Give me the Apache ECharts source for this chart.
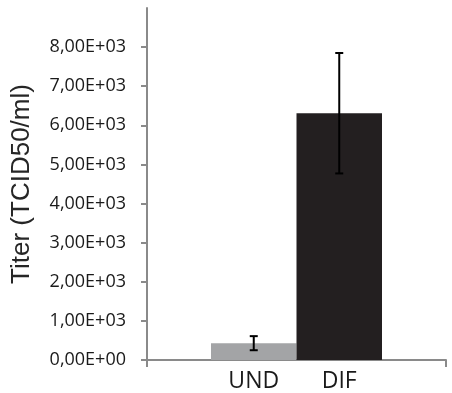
<!DOCTYPE html>
<html>
<head>
<meta charset="utf-8">
<script src="https://cdn.jsdelivr.net/npm/echarts@6/dist/echarts.min.js"></script>
<style>
  html, body { margin: 0; padding: 0; background: #fff; }
  #chart { width: 452px; height: 393px; }
</style>
</head>
<body>
<div id="chart"></div>
<script>
// data
const categories = ['UND', 'DIF']
const titers = [430, 6310]
const errors = [180, 1540]
const barColors = ['#a3a4a6', '#231f20']
const tickLabels = ['0,00E+00', '1,00E+03', '2,00E+03', '3,00E+03', '4,00E+03',
  '5,00E+03', '6,00E+03', '7,00E+03', '8,00E+03', '9,00E+03']

const axisGray = '#8a8a8a'

const chart = echarts.init(document.getElementById('chart'))

const option = {
  animation: false,
  grid: [
    // full frame: y axis + x axis line
    { left: 147, top: 8, width: 299, bottom: 33, outerBoundsMode: 'none', containLabel: false },
    // bars sit in a narrower band of the same frame
    { left: 211, top: 8, width: 171, bottom: 33, outerBoundsMode: 'none', containLabel: false }
  ],
  xAxis: [
    {
      gridIndex: 0,
      type: 'value',
      min: 0,
      max: 1,
      interval: 1,
      axisLine: { show: true, lineStyle: { color: axisGray, width: 2 } },
      axisTick: { show: true, length: 7, lineStyle: { color: axisGray, width: 2 } },
      axisLabel: { show: false },
      splitLine: { show: false }
    },
    {
      gridIndex: 1,
      type: 'category',
      data: categories,
      axisLine: { show: false },
      axisTick: { show: false },
      axisLabel: {
        margin: 10,
        color: '#1a1a1a',
        fontFamily: 'Open Sans',
        fontSize: 23
      }
    }
  ],
  yAxis: [
    {
      gridIndex: 0,
      type: 'value',
      min: 0,
      max: 9000,
      interval: 1000,
      name: 'Titer (TCID50/ml)',
      nameLocation: 'middle',
      nameRotate: 90,
      nameGap: 112,
      nameTextStyle: {
        color: '#262626',
        fontFamily: 'Liberation Sans',
        fontSize: 26
      },
      axisLine: { show: true, lineStyle: { color: axisGray, width: 2 } },
      axisTick: { show: true, inside: false, length: 6, lineStyle: { color: axisGray, width: 2 } },
      axisLabel: {
        showMaxLabel: false,
        margin: 21,
        color: '#1a1a1a',
        fontFamily: 'Open Sans',
        fontSize: 18,
        formatter: (v) => tickLabels[Math.round(v / 1000)]
      },
      splitLine: { show: false }
    },
    {
      gridIndex: 1,
      type: 'value',
      min: 0,
      max: 9000,
      show: false
    }
  ],
  series: [
    {
      type: 'bar',
      xAxisIndex: 1,
      yAxisIndex: 1,
      barCategoryGap: 0,
      data: titers.map((v, i) => ({ value: v, itemStyle: { color: barColors[i] } })),
      z: 1
    },
    {
      // error bars
      type: 'custom',
      xAxisIndex: 1,
      yAxisIndex: 1,
      data: titers.map((v, i) => [i, v - errors[i], v + errors[i]]),
      renderItem: (params, api) => {
        const lo = api.coord([api.value(0), api.value(1)])
        const hi = api.coord([api.value(0), api.value(2)])
        const half = 4
        const style = { stroke: '#000', lineWidth: 2 }
        return {
          type: 'group',
          children: [
            { type: 'line', shape: { x1: hi[0], y1: hi[1], x2: lo[0], y2: lo[1] }, style },
            { type: 'line', shape: { x1: hi[0] - half, y1: hi[1], x2: hi[0] + half, y2: hi[1] }, style },
            { type: 'line', shape: { x1: lo[0] - half, y1: lo[1], x2: lo[0] + half, y2: lo[1] }, style }
          ]
        }
      },
      z: 3
    }
  ]
}

chart.setOption(option)
</script>
</body>
</html>
